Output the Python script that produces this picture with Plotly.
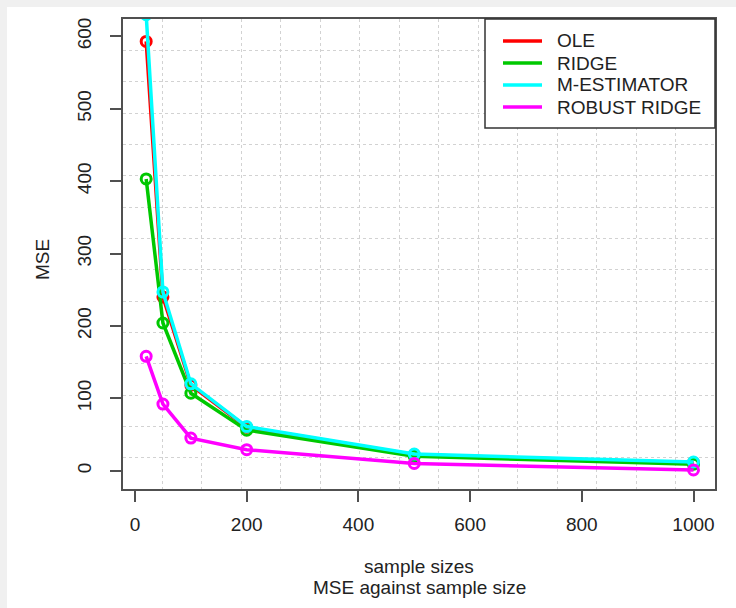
import plotly.graph_objects as go

# ---- data ----
sample_sizes = [20, 50, 100, 200, 500, 1000]
series_names = ["OLE", "RIDGE", "M-ESTIMATOR", "ROBUST RIDGE"]
mse_ole = [593, 240, 118, 60, 22, 11]
mse_ridge = [403, 204, 107, 56, 20, 9]
mse_mest = [630, 247, 120, 61, 23, 12]
mse_robust = [158, 92, 45, 29, 10, 1]
x_ticks = [0, 200, 400, 600, 800, 1000]
y_ticks = [0, 100, 200, 300, 400, 500, 600]

colors = ["#ff0000", "#00c800", "#00ffff", "#ff00ff"]
all_series = [mse_ole, mse_ridge, mse_mest, mse_robust]

# ---- layout geometry ----
W, H = 736, 608
ML, MR, MT, MB = 123, 21, 19, 119
PW, PH = W - ML - MR, H - MT - MB
x_range = [-21.5, 1038.5]
y_range = [-25.3, 624.0]
FONT = "Liberation Sans, Arial, sans-serif"
FS = 19
TXT = "#222222"
AX = "#505050"


def px(x):
    return (x - ML) / PW


def py(y):
    return (MT + PH - y) / PH


fig = go.Figure()
for name, vals, col in zip(series_names, all_series, colors):
    fig.add_trace(go.Scatter(
        x=sample_sizes, y=vals, name=name, mode="lines+markers",
        line=dict(color=col, width=3.5),
        marker=dict(symbol="circle-open", size=10, color=col,
                    line=dict(width=3, color=col)),
        showlegend=False,
    ))

axis_common = dict(
    showgrid=False, zeroline=False, showline=True, mirror=True,
    linecolor=AX, linewidth=1.5, ticks="outside", ticklen=11,
    tickwidth=1.5, tickcolor=AX,
    tickfont=dict(family=FONT, size=FS, color=TXT),
)
fig.update_xaxes(
    range=x_range, tickvals=x_ticks, ticklabelstandoff=6,
    minor=dict(tick0=x_range[0], dtick=(x_range[1] - x_range[0]) / 15,
               showgrid=True, gridcolor="#d2d2d2", griddash="dot",
               gridwidth=1, ticks=""),
    **axis_common,
)
fig.update_yaxes(
    range=y_range, tickvals=y_ticks, tickangle=-90, ticklabelstandoff=12,
    minor=dict(tick0=y_range[0], dtick=(y_range[1] - y_range[0]) / 15,
               showgrid=True, gridcolor="#d2d2d2", griddash="dot",
               gridwidth=1, ticks=""),
    **axis_common,
)

shapes = [
    # white page area inside the grey frame
    dict(type="rect", xref="paper", yref="paper", x0=px(7), x1=px(W + 5),
         y0=py(H + 5), y1=py(7), fillcolor="white", line_width=0,
         layer="below"),
    # legend box
    dict(type="rect", xref="paper", yref="paper", x0=px(485), x1=px(715),
         y0=py(128), y1=py(19), fillcolor="white",
         line=dict(color="#333333", width=1.5), layer="above"),
]
annotations = []
row_y = [41, 63, 85, 107]
for name, col, ry in zip(series_names, colors, row_y):
    shapes.append(dict(type="line", xref="paper", yref="paper",
                       x0=px(503), x1=px(542), y0=py(ry), y1=py(ry),
                       line=dict(color=col, width=3.5), layer="above"))
    annotations.append(dict(xref="paper", yref="paper", x=px(555), y=py(ry),
                            text=name, showarrow=False, xanchor="left",
                            yanchor="middle",
                            font=dict(family=FONT, size=FS, color=TXT)))

annotations += [
    dict(xref="paper", yref="paper", x=px(419), y=py(566), text="sample sizes",
         showarrow=False, xanchor="center", yanchor="middle",
         font=dict(family=FONT, size=FS, color=TXT)),
    dict(xref="paper", yref="paper", x=px(419), y=py(587),
         text="MSE against sample size", showarrow=False, xanchor="center",
         yanchor="middle", font=dict(family=FONT, size=FS, color=TXT)),
    dict(xref="paper", yref="paper", x=px(42), y=py(260), text="MSE",
         textangle=-90, showarrow=False, xanchor="center", yanchor="middle",
         font=dict(family=FONT, size=FS, color=TXT)),
]

fig.update_layout(
    width=W, height=H,
    margin=dict(l=ML, r=MR, t=MT, b=MB, pad=0),
    paper_bgcolor="#f0f0f0", plot_bgcolor="white",
    shapes=shapes, annotations=annotations, showlegend=False,
)

fig.write_html(
    "out.html",
    config={"displayModeBar": False},
    post_script="document.body.style.margin='0';"
                "document.body.style.overflow='hidden';",
)
